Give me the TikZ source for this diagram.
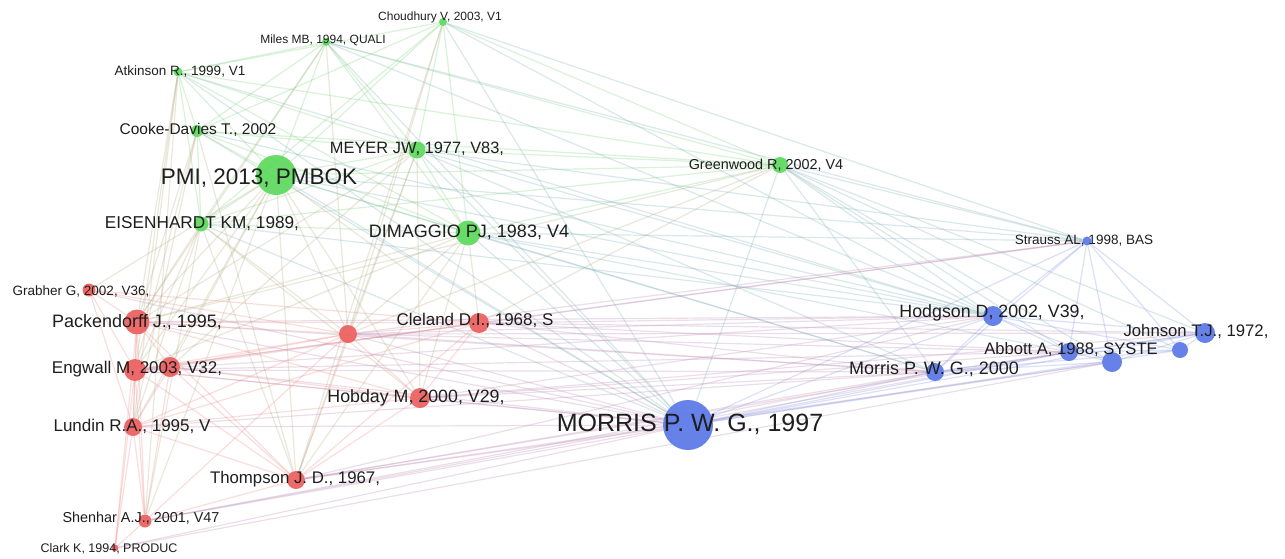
\documentclass[tikz,border=0pt]{standalone}
\usepackage{fontspec}
\setmainfont{Liberation Sans}
\usetikzlibrary{backgrounds}
\definecolor{vosgreen}{RGB}{92,216,92}
\definecolor{vosred}{RGB}{236,94,94}
\definecolor{vosblue}{RGB}{90,120,232}
\definecolor{edgegreen}{RGB}{120,210,120}
\definecolor{edgered}{RGB}{240,135,135}
\definecolor{edgeblue}{RGB}{125,145,230}
\definecolor{labtext}{RGB}{30,30,30}

\begin{document}
\begin{tikzpicture}[x=1pt, y=-1pt,
  gnode/.style={circle, fill=vosgreen, fill opacity=0.92, inner sep=0pt, minimum size=#1},
  rnode/.style={circle, fill=vosred, fill opacity=0.92, inner sep=0pt, minimum size=#1},
  bnode/.style={circle, fill=vosblue, fill opacity=0.92, inner sep=0pt, minimum size=#1},
  lab/.style={inner sep=0pt, text=labtext, font=\fontsize{#1}{#1}\selectfont},
  link/.style={draw=#1, line width=1.2pt, draw opacity=0.28}
]
\useasboundingbox (0,0) rectangle (1285,558);

% --- Green cluster ---
\node[gnode=8]  (chou)  at (443,22)  {};
\node[gnode=8]  (miles) at (326,42)  {};
\node[gnode=9]  (atk)   at (178,72)  {};
\node[gnode=12] (cooke) at (197,131) {};
\node[gnode=40] (pmi)   at (276,175) {};
\node[gnode=17] (meyer) at (417,150) {};
\node[gnode=15] (eisen) at (201,224) {};
\node[gnode=25] (dimag) at (468,233) {};
\node[gnode=16] (green) at (780,165) {};

% --- Red cluster ---
\node[rnode=13] (grab)  at (89,290)  {};
\node[rnode=25] (pack)  at (137,322) {};
\node[rnode=18] (rmid)  at (348,334) {};
\node[rnode=20] (clel)  at (479,323) {};
\node[rnode=22] (engw)  at (135,370) {};
\node[rnode=20] (engb)  at (170,367) {};
\node[rnode=20] (hobd)  at (420,398) {};
\node[rnode=18] (lund)  at (133,427) {};
\node[rnode=18] (thom)  at (296,480) {};
\node[rnode=13] (shen)  at (145,521) {};
\node[rnode=7]  (clark) at (115,548) {};

% --- Blue cluster ---
\node[bnode=50] (morr)  at (688,425) {};
\node[bnode=9]  (strau) at (1087,241) {};
\node[bnode=20] (hodg)  at (993,316) {};
\node[bnode=20] (john)  at (1205,333) {};
\node[bnode=18] (abb)   at (1069,352) {};
\node[bnode=20] (abbb)  at (1112,362) {};
\node[bnode=16] (abbc)  at (1180,350) {};
\node[bnode=18] (morrb) at (935,372) {};

% --- Links ---
\begin{scope}[on background layer]
  \fill[white] (0,0) rectangle (1285,558);
  \foreach \a/\b in {chou/atk, chou/pmi, chou/meyer, chou/dimag, chou/green, chou/cooke, chou/eisen,
      miles/atk, miles/pmi, miles/cooke, miles/meyer, miles/dimag, miles/green, miles/eisen,
      atk/cooke, atk/pmi, atk/eisen, atk/meyer, atk/dimag, atk/green,
      cooke/pmi, cooke/eisen, cooke/meyer, cooke/dimag, cooke/green,
      pmi/meyer, pmi/eisen, pmi/dimag, pmi/green, meyer/dimag, meyer/eisen, meyer/green,
      eisen/dimag, eisen/green, dimag/green}
    \draw[link=edgegreen] (\a) -- (\b);
  \foreach \a/\b in {grab/pack, grab/engw, grab/lund, grab/rmid, grab/clel,
      pack/engw, pack/engb, pack/lund, pack/rmid, pack/clel, pack/hobd, pack/thom, pack/shen, pack/clark,
      engw/engb, engw/lund, engw/rmid, engw/clel, engw/hobd, engw/thom, engw/shen, engw/clark,
      engb/lund, engb/rmid, engb/clel, engb/hobd, engb/thom, engb/shen,
      lund/rmid, lund/clel, lund/hobd, lund/thom, lund/shen, lund/clark,
      rmid/clel, rmid/hobd, rmid/thom, rmid/shen, clel/hobd, clel/thom, hobd/thom,
      thom/shen, shen/clark}
    \draw[link=edgered] (\a) -- (\b);
  \foreach \a/\b in {morr/strau, morr/hodg, morr/john, morr/abb, morr/abbb, morr/abbc, morr/morrb,
      strau/hodg, strau/john, strau/abb, strau/abbb, strau/abbc, strau/morrb,
      hodg/john, hodg/abb, hodg/abbb, hodg/abbc, hodg/morrb,
      morrb/abb, morrb/abbb, morrb/abbc, morrb/john,
      abb/abbb, abb/abbc, abb/john, abbb/john, abbc/john}
    \draw[link=edgeblue] (\a) -- (\b);
  \foreach \a/\b in {pmi/pack, pmi/engw, pmi/engb, pmi/lund, pmi/rmid, pmi/clel, pmi/hobd, pmi/thom,
      pmi/shen, pmi/grab, atk/pack, atk/lund, atk/engw, atk/shen, cooke/pack, cooke/engw,
      cooke/lund, cooke/thom, eisen/pack, eisen/engw, eisen/lund, eisen/hobd, eisen/thom,
      eisen/rmid, eisen/shen, meyer/rmid, meyer/hobd, meyer/thom, meyer/pack, meyer/engb,
      dimag/rmid, dimag/hobd, dimag/thom, dimag/pack, dimag/engw, dimag/clel,
      miles/pack, miles/rmid, chou/rmid, chou/thom, green/rmid, green/clel, green/pack}
    \draw[link=edgegreen!50!edgered] (\a) -- (\b);
  \foreach \a/\b in {green/strau, green/hodg, green/morrb, green/abb, green/abbb, green/john,
      green/morr, green/abbc, chou/hodg, chou/strau, chou/morr, miles/hodg, meyer/hodg,
      meyer/strau, meyer/morr, meyer/morrb, dimag/morr, dimag/hodg, dimag/strau, dimag/morrb,
      dimag/abb, pmi/morr, pmi/hodg, pmi/morrb, pmi/strau, eisen/morr, eisen/hodg,
      cooke/morr, cooke/hodg, atk/morr, atk/hodg, miles/strau, miles/morr}
    \draw[link=edgegreen!45!edgeblue] (\a) -- (\b);
  \foreach \a/\b in {morr/pack, morr/engw, morr/engb, morr/lund, morr/rmid, morr/clel, morr/hobd,
      morr/thom, morr/shen, morr/clark, morr/grab, hodg/clel, hodg/rmid, hodg/pack, hodg/engw,
      hodg/hobd, hodg/thom, morrb/clel, morrb/rmid, morrb/hobd, morrb/pack, morrb/engw,
      morrb/lund, morrb/thom, morrb/shen, abb/clel, abb/hobd, abb/rmid, abb/engw, abb/thom,
      abb/shen, abbb/thom, abbb/clark, john/clel, john/rmid, john/hobd, strau/clel,
      strau/rmid, strau/engw}
    \draw[link=edgered!55!edgeblue] (\a) -- (\b);
\end{scope}

% --- Labels ---
\node[lab=12]   (chou-l)  at (440,17)  {Choudhury V, 2003, V1};
\node[lab=12]   (miles-l) at (323,40)  {Miles MB, 1994, QUALI};
\node[lab=13.5] (atk-l)   at (180,71)  {Atkinson R., 1999, V1};
\node[lab=15.5] (cooke-l) at (198,130) {Cooke-Davies T., 2002};
\node[lab=22.5] (pmi-l)   at (259,178) {PMI, 2013, PMBOK};
\node[lab=16.4] (meyer-l) at (417,149) {MEYER JW, 1977, V83,};
\node[lab=17.2] (eisen-l) at (202,224) {EISENHARDT KM, 1989,};
\node[lab=18]   (dimag-l) at (469,232) {DIMAGGIO PJ, 1983, V4};
\node[lab=14.4] (green-l) at (766,165) {Greenwood R, 2002, V4};

\node[lab=13.5] (grab-l)  at (81,291)  {Grabher G, 2002, V36,};
\node[lab=18]   (pack-l)  at (137,322) {Packendorff J., 1995,};
\node[lab=17]   (clel-l)  at (475,320) {Cleland D.I., 1968, S};
\node[lab=17]   (engw-l)  at (137,369) {Engwall M, 2003, V32,};
\node[lab=17.8] (hobd-l)  at (416,398) {Hobday M, 2000, V29,};
\node[lab=17]   (lund-l)  at (132,426) {Lundin R.A., 1995, V};
\node[lab=16.8] (thom-l)  at (295,479) {Thompson J. D., 1967,};
\node[lab=14.4] (shen-l)  at (141,518) {Shenhar A.J., 2001, V47};
\node[lab=12.5] (clark-l) at (109,549) {Clark K, 1994, PRODUC};

\node[lab=25]   (morr-l)  at (690,424) {MORRIS P. W. G., 1997};
\node[lab=13.5] (strau-l) at (1084,241) {Strauss AL, 1998, BAS};
\node[lab=17.8] (hodg-l)  at (992,313) {Hodgson D, 2002, V39,};
\node[lab=16.7] (john-l)  at (1196,332) {Johnson T.J., 1972,};
\node[lab=16.6] (abb-l)   at (1071,350) {Abbott A, 1988, SYSTE};
\node[lab=18]   (morrb-l) at (934,369) {Morris P. W. G., 2000};

\end{tikzpicture}
\end{document}
